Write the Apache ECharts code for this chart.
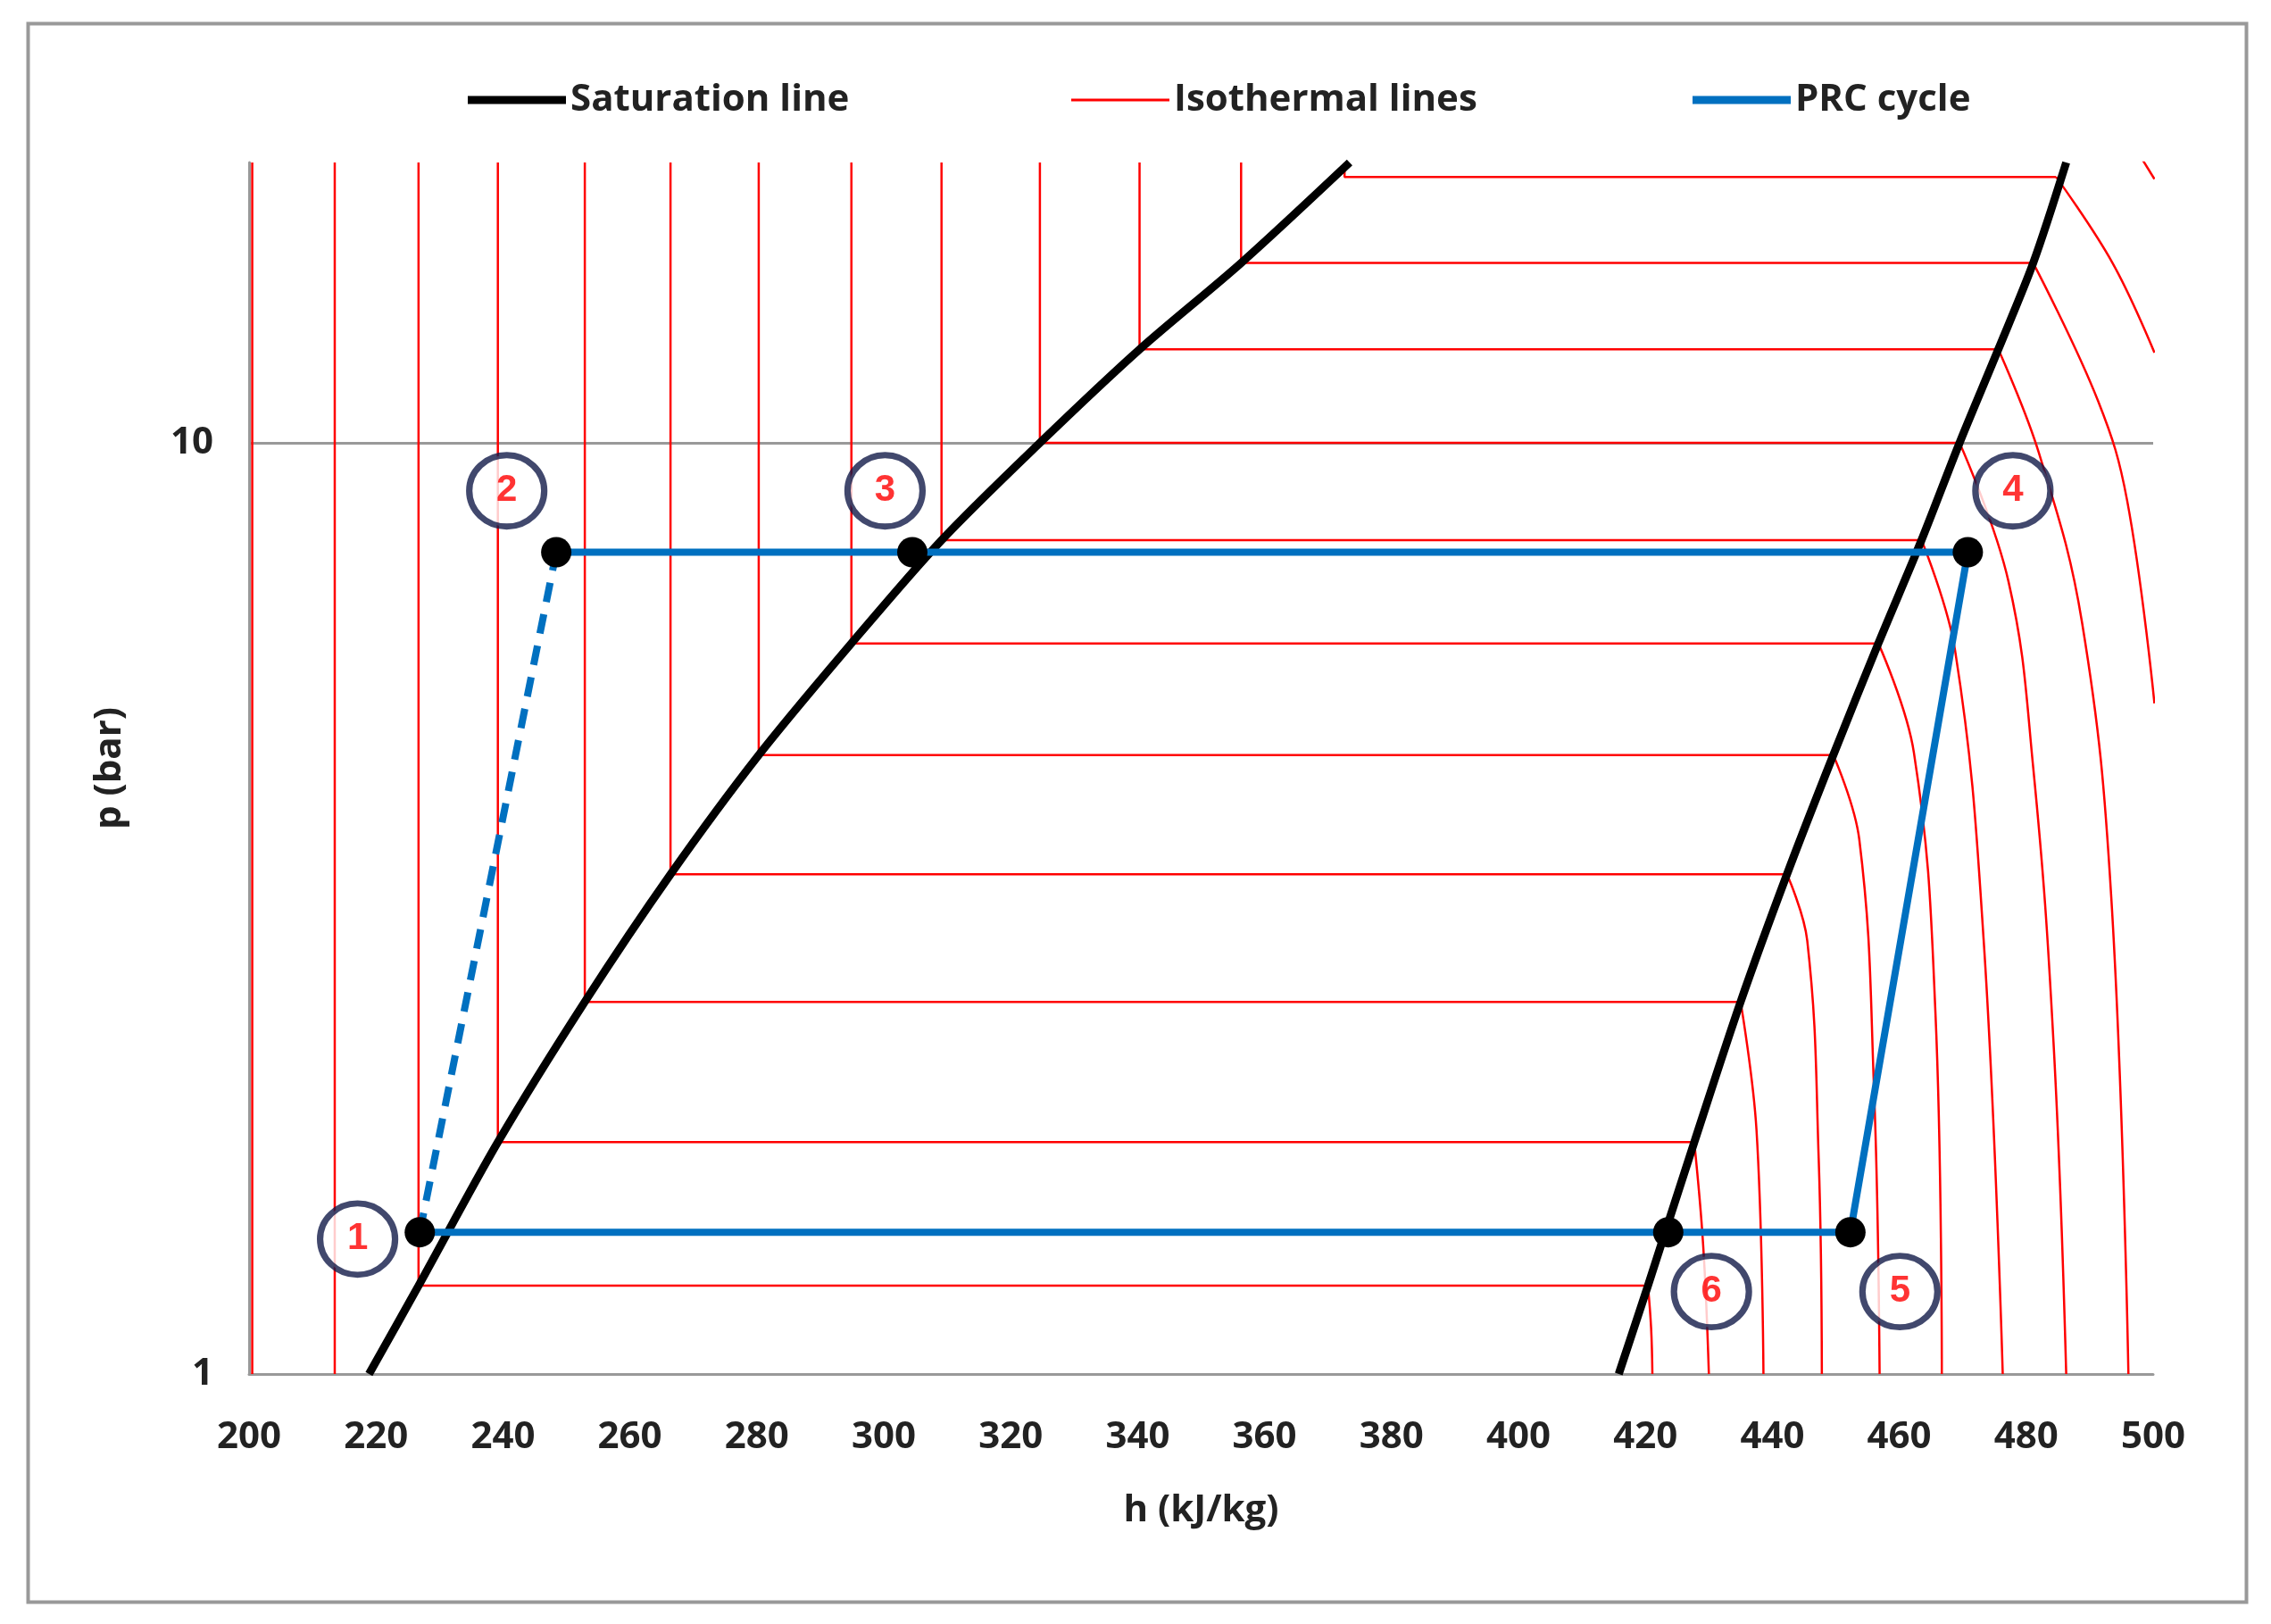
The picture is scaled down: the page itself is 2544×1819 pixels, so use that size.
<!DOCTYPE html>
<html>
<head>
<meta charset="utf-8">
<script src="https://cdn.jsdelivr.net/npm/echarts@6/dist/echarts.min.js"></script>
<style>html,body{margin:0;background:#fff}#chart{width:2544px;height:1819px}</style>
</head>
<body>
<div id="chart"></div>
<script>
// saturation dome, [h (kJ/kg), p (bar)]
const satLiquid = [[218.9,1],[226.7,1.244],[239.2,1.774],[252.9,2.51],[266.4,3.44],[280.3,4.62],[294.9,6.09],[309.1,7.86],[324.6,10],[340.3,12.6],[356.3,15.6],[373.4,20]];
const satVapour = [[415.8,1],[420.4,1.244],[427.7,1.774],[435.0,2.51],[442.3,3.44],[449.6,4.62],[456.7,6.09],[463.5,7.86],[469.5,10],[475.6,12.6],[481.1,15.6],[486.3,20]];

// isotherms: liquid vertical + two-phase horizontal
const isoStraight = [
    [[200.5,1],[200.5,20]],
    [[213.5,1],[213.5,20]],
    [[226.7,20],[226.7,1.244],[420.4,1.244]],
    [[239.2,20],[239.2,1.774],[427.7,1.774]],
    [[252.9,20],[252.9,2.51],[435.0,2.51]],
    [[266.4,20],[266.4,3.44],[442.3,3.44]],
    [[280.3,20],[280.3,4.62],[449.6,4.62]],
    [[294.9,20],[294.9,6.09],[456.7,6.09]],
    [[309.1,20],[309.1,7.86],[463.5,7.86]],
    [[324.6,20],[324.6,10],[469.5,10]],
    [[340.3,20],[340.3,12.6],[475.6,12.6]],
    [[356.3,20],[356.3,15.6],[481.1,15.6]],
    [[372.6,20],[372.6,19.3],[484.7,19.3]]
];
// isotherms: superheated vapour part
const isoCurves = [
    [[420.4,1.244],[420.9,1.12],[421.1,1]],
    [[427.7,1.774],[429.1,1.375],[430.0,1]],
    [[435.0,2.51],[437.5,1.83],[438.6,1]],
    [[442.3,3.44],[445.5,2.92],[447.3,1.705],[447.8,1]],
    [[449.6,4.62],[453.7,3.75],[456.0,2.04],[456.9,1]],
    [[456.7,6.09],[462.3,4.65],[465.7,2.44],[466.7,1]],
    [[463.5,7.86],[468.8,5.98],[473.3,2.92],[476.3,1]],
    [[469.5,10],[477.2,7.1],[481.1,4.48],[484.3,2.27],[486.3,1]],
    [[475.6,12.6],[482.0,9.75],[488.8,6.41],[493.4,3.25],[496.1,1]],
    [[481.1,15.6],[491.3,11.1],[495.9,8.67],[500.2,5.25]],
    [[484.7,19.3],[493.6,15.6],[500.2,12.5]],
    [[498.2,20.2],[500.2,19.2]]
];

// PRC cycle states
const pState1 = [226.9,1.42];
const pState2 = [248.4,7.63];
const pState3 = [304.5,7.63];
const pState4 = [470.8,7.63];
const pState5 = [452.3,1.42];
const pState6 = [423.6,1.42];
const cycleSolid = [pState2, pState3, pState4, pState5, pState6, pState1];
const cyclePump = [pState1, pState2];

// numbered state badges
const badgeNames = ['1','2','3','4','5','6'];
const badgePos = [[217.1,1.396],[240.6,8.88],[300.2,8.88],[477.9,8.88],[460.1,1.226],[430.4,1.226]];

const xTicks = {min: 200, max: 500, step: 20};
const yLabels = [1, 10];

const RED = '#ff0000', BLUE = '#0070c0';
const chart = echarts.init(document.getElementById('chart'));

const series = [];
isoStraight.forEach(pts => {
    series.push({
        name: 'Isothermal lines', type: 'line', data: pts, symbol: 'none',
        itemStyle: {color: RED}, lineStyle: {color: RED, width: 2.5}, z: 2
    });
});
isoCurves.forEach(pts => {
    series.push({
        name: 'Isothermal lines', type: 'line', data: pts, symbol: 'none', smooth: 0.4,
        itemStyle: {color: RED}, lineStyle: {color: RED, width: 2.5}, z: 2
    });
});
[satLiquid, satVapour].forEach(pts => {
    series.push({
        name: 'Saturation line', type: 'line', data: pts, symbol: 'none', smooth: 0.3,
        itemStyle: {color: '#000'}, lineStyle: {color: '#000', width: 9}, z: 3
    });
});
series.push({
    name: 'PRC cycle', type: 'line', data: cyclePump, symbol: 'none',
    itemStyle: {color: BLUE}, lineStyle: {color: BLUE, width: 8, type: [22, 14]}, z: 4
});
series.push({
    name: 'PRC cycle', type: 'line', data: cycleSolid, symbol: 'circle', symbolSize: 34,
    itemStyle: {color: '#000'},
    lineStyle: {color: BLUE, width: 8}, z: 5
});
series.push({
    name: 'states', type: 'scatter', z: 6,
    data: badgeNames.map((n, i) => ({name: n, value: badgePos[i]})),
    symbol: 'circle', symbolSize: [84, 80],
    itemStyle: {color: '#fff', borderColor: '#121a48', borderWidth: 7},
    label: {show: true, position: 'inside', formatter: p => p.name,
        color: RED, fontWeight: 'bold', fontSize: 42, fontFamily: 'Liberation Sans'}
});

const textBold = {fontSize: 42, fontWeight: 'bold', color: '#222', fontFamily: 'Open Sans'};
const option = {
    backgroundColor: '#fff',
    animation: false,
    grid: {left: 279, right: 132, top: 182, bottom: 280},
    legend: [
        {data: [{name: 'Saturation line', itemStyle: {color: '#000'}}], left: 519, top: 86, itemWidth: 110, itemHeight: 9, icon: 'rect', textStyle: textBold},
        {data: [{name: 'Isothermal lines', itemStyle: {color: RED}}], left: 1195, top: 86, itemWidth: 110, itemHeight: 3, icon: 'rect', textStyle: textBold},
        {data: [{name: 'PRC cycle', itemStyle: {color: BLUE}}], left: 1891, top: 86, itemWidth: 110, itemHeight: 9, icon: 'rect', textStyle: textBold}
    ],
    xAxis: {
        type: 'value', min: xTicks.min, max: xTicks.max, interval: xTicks.step,
        name: 'h (kJ/kg)', nameLocation: 'middle', nameGap: 132, nameTextStyle: textBold,
        axisLine: {lineStyle: {color: '#999', width: 3}},
        axisTick: {show: false}, splitLine: {show: false},
        axisLabel: Object.assign({margin: 50}, textBold)
    },
    yAxis: {
        type: 'log', logBase: 10, min: 1, max: 20,
        name: 'p (bar)', nameLocation: 'middle', nameGap: 135, nameRotate: 90, nameTextStyle: textBold,
        axisLine: {show: true, lineStyle: {color: '#999', width: 3}},
        axisTick: {show: false},
        splitLine: {show: true, showMaxLine: false, lineStyle: {color: '#999', width: 3}},
        axisLabel: Object.assign({margin: 40,
            formatter: v => yLabels.some(t => Math.abs(t - v) < 1e-6) ? String(Math.round(v)) : ''}, textBold)
    },
    graphic: [{
        type: 'rect', left: 29, top: 24, z: -1,
        shape: {width: 2485, height: 1768},
        style: {fill: 'none', stroke: '#999', lineWidth: 4}
    }],
    series: series
};
chart.setOption(option);
</script>
</body>
</html>
